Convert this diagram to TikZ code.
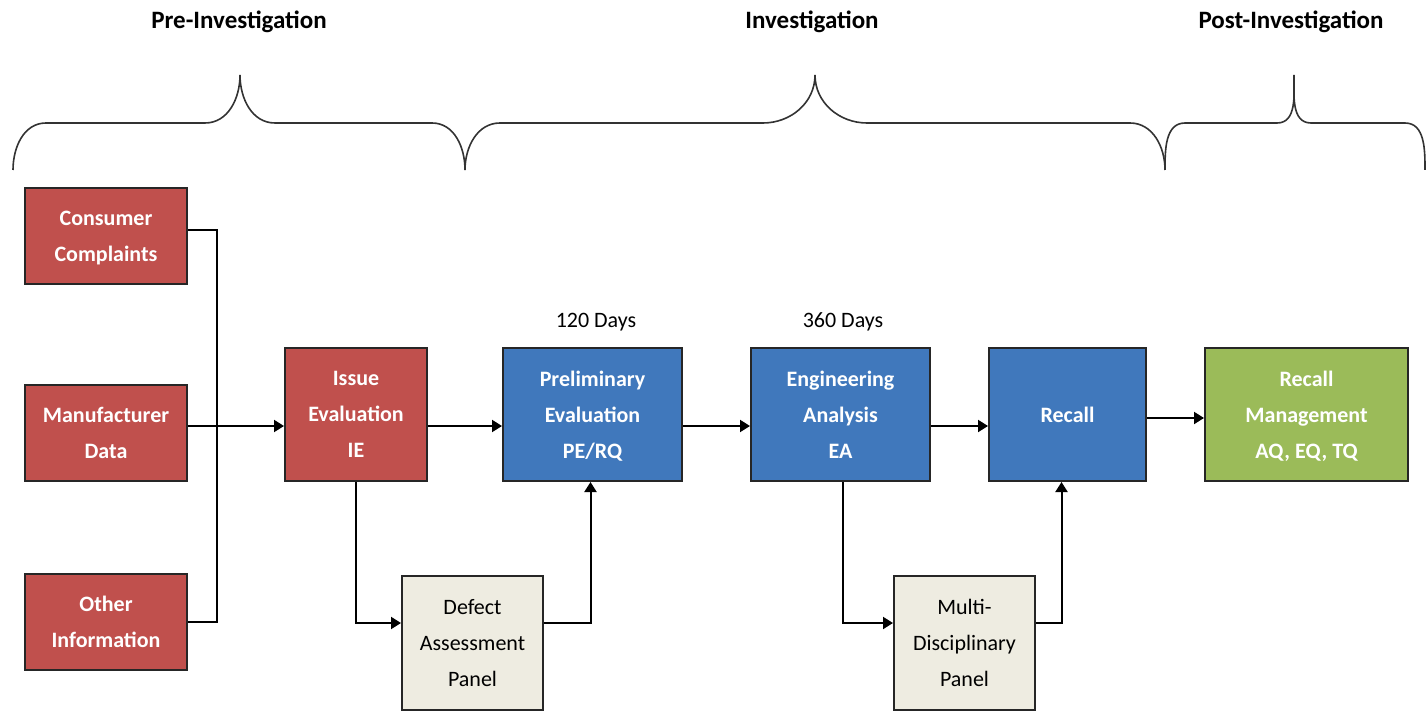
\documentclass[tikz,border=0pt]{standalone}
\usepackage{fontspec}
\setmainfont{Carlito}
\usetikzlibrary{positioning, arrows.meta}

\definecolor{inputred}{RGB}{192,80,77}
\definecolor{phaseblue}{RGB}{64,120,188}
\definecolor{mgmtgreen}{RGB}{155,187,89}
\definecolor{panelbeige}{RGB}{238,236,225}

% brace over one phase: left x, tip x, right x, corner, tip radius
\NewDocumentCommand{\phasebrace}{mmmmm}{%
  \draw[bracepen] (#1,170) to[out=90, in=180] ({#1+#4},123) -- ({#2-#5},123)
    to[out=0, in=-90] (#2,75) to[out=-90, in=180] ({#2+#5},123)
    -- ({#3-#4},123) to[out=0, in=90] (#3,170);}

\begin{document}
\begin{tikzpicture}[x=0.5pt, y=-0.5pt, line width=1pt,
    >={Triangle[length=5pt, width=6pt]},
    box/.style = {draw=black!85, line width=1pt, inner sep=0pt, align=center,
                  text=white, text depth=0pt, font=\bfseries\fontsize{11}{18}\selectfont},
    srcbox/.style = {box, fill=inputred, minimum width=81pt, minimum height=48pt},
    stepbox/.style = {box, minimum height=66.5pt},
    panelbox/.style = {box, fill=panelbeige, text=black, minimum width=70.5pt, minimum height=67pt,
                       font=\fontsize{11}{18}\selectfont},
    phase/.style = {font=\bfseries\fontsize{12.5}{15}\selectfont},
    days/.style = {font=\fontsize{11}{13}\selectfont},
    bracepen/.style = {draw=black!80, line width=0.8pt}]
    \useasboundingbox (0,0) rectangle (1428,711);

    % phase headings and braces
    \node[phase] (pre) at (239,22) {Pre-Investigation};
    \node[phase] (inv) at (812,22) {Investigation};
    \node[phase] (post) at (1291,22) {Post-Investigation};
    \phasebrace{13}{240}{465}{33}{35}
    \phasebrace{465}{815}{1165}{35}{52}
    \phasebrace{1165}{1294}{1425}{20}{17}

    % inputs
    \node[srcbox] (cc) at (106,236) {Consumer\\Complaints};
    \node[srcbox] (md) at (106,433) {Manufacturer\\Data};
    \node[srcbox] (oi) at (106,622) {Other\\Information};

    % process
    \node[stepbox, fill=inputred, minimum width=71pt] (ie) at (356,414.5) {Issue\\Evaluation\\IE};
    \node[stepbox, fill=phaseblue, minimum width=89.5pt] (pe) at (592.5,414.5) {Preliminary\\Evaluation\\PE/RQ};
    \node[stepbox, fill=phaseblue, minimum width=89.5pt] (ea) at (840.5,414.5) {Engineering\\Analysis\\EA};
    \node[stepbox, fill=phaseblue, minimum width=78.5pt] (rc) at (1067.5,414.5) {Recall};
    \node[stepbox, fill=mgmtgreen, minimum width=101.5pt] (rm) at (1306.5,414.5) {Recall\\Management\\AQ, EQ, TQ};

    \node[panelbox] (dap) at (472.5,643) {Defect\\Assessment\\Panel};
    \node[panelbox] (mdp) at (964.5,643) {Multi-\\Disciplinary\\Panel};

    \node[days] (d120) at (596,322) {120 Days};
    \node[days] (d360) at (843,322) {360 Days};

    \coordinate (join) at (217,426);
    \coordinate (rmline) at (1176,418);

    % connectors
    \draw ([yshift=3pt]cc.east) -| (join) |- (oi.east);
    \draw[->] (md.east |- join) -- (ie.west |- join);
    \draw[->] (ie.east |- join) -- (pe.west |- join);
    \draw[->] (pe.east |- join) -- (ea.west |- join);
    \draw[->] (ea.east |- join) -- (rc.west |- join);
    \draw[->] (rc.east |- rmline) -- (rm.west |- rmline);
    \draw[->] (ie.south) |- ([yshift=10pt]dap.west);
    \draw[->] ([yshift=10pt]dap.east) -| ([xshift=-1pt]pe.south);
    \draw[->] ([xshift=1pt]ea.south) |- ([yshift=10pt]mdp.west);
    \draw[->] ([yshift=10pt]mdp.east) -| ([xshift=-3pt]rc.south);
\end{tikzpicture}
\end{document}
